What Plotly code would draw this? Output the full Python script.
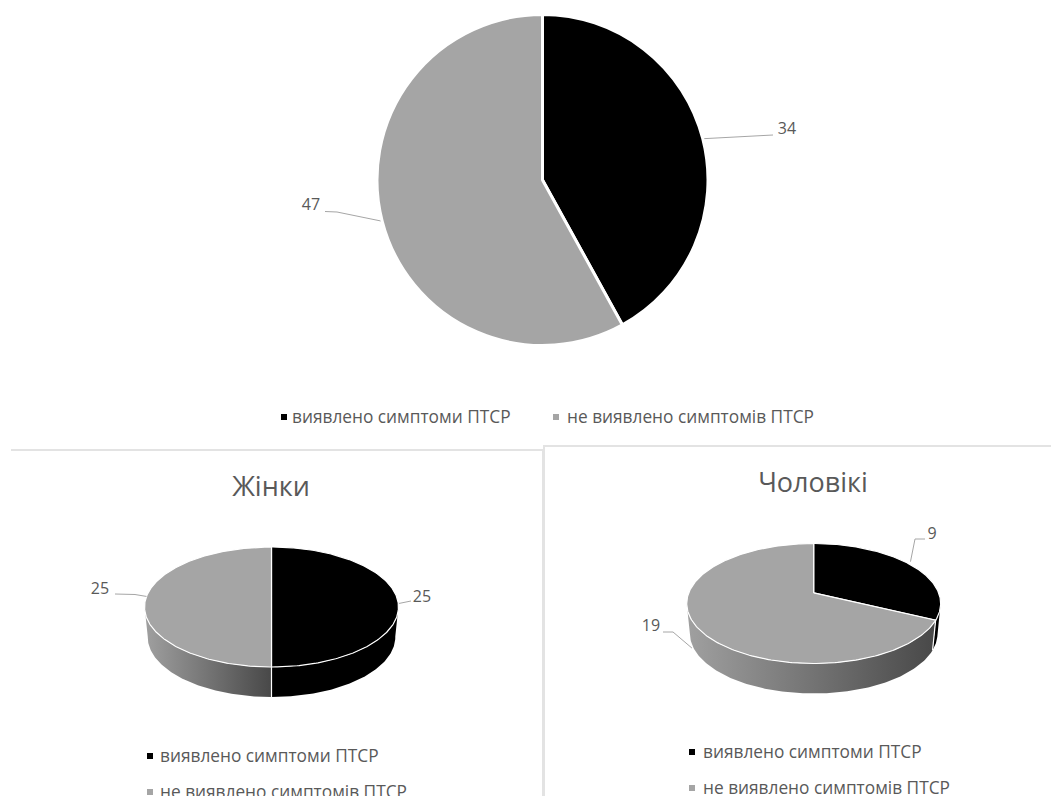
import numpy as np
import plotly.graph_objects as go

# Survey counts
categories = ["виявлено симптоми ПТСР", "не виявлено симптомів ПТСР"]
all_values = [34, 47]
women_values = [25, 25]
men_values = [9, 19]
women_title = "Жінки"
men_title = "Чоловікі"

BLACK = "#000000"
GREY = "#a5a5a5"
TEXT = "#595959"
RULE = "#e3e3e3"
FONT = "Open Sans"
W, H = 1051, 796

fig = go.Figure()


def add_text(x, y, text, size, anchor="middle center"):
    fig.add_trace(go.Scatter(
        x=[x], y=[y], mode="text", text=[text], textposition=anchor,
        textfont=dict(family=FONT, size=size, color=TEXT),
        hoverinfo="skip", showlegend=False))


def add_leader(points):
    xs, ys = zip(*points)
    fig.add_trace(go.Scatter(
        x=xs, y=ys, mode="lines", line=dict(color="#a6a6a6", width=1),
        hoverinfo="skip", showlegend=False))


def add_legend_row(x, y, label, colour, gap=10):
    fig.add_trace(go.Scatter(
        x=[x], y=[y], mode="markers",
        marker=dict(symbol="square", size=6, color=colour),
        hoverinfo="skip", showlegend=False))
    add_text(x + gap, y + 2, label, 17.3, "middle right")


# Flat pie across the top
TOP_CX, TOP_CY, TOP_R = 542.5, 180, 165.5
fig.add_trace(go.Pie(
    labels=categories, values=all_values, sort=False, direction="clockwise",
    rotation=0, textinfo="none", hoverinfo="skip", showlegend=False,
    marker=dict(colors=[BLACK, GREY], line=dict(color="white", width=3)),
    domain=dict(x=[(TOP_CX - TOP_R) / W, (TOP_CX + TOP_R) / W],
                y=[1 - (TOP_CY + TOP_R) / H, 1 - (TOP_CY - TOP_R) / H])))


def mid_angle(values, i):
    total = sum(values)
    return 2 * np.pi * (sum(values[:i]) + values[i] / 2) / total


for i, (route, label_pos) in enumerate([
        ([(773, 135)], (787, 130)),
        ([(337, 212), (325, 211.5)], (311, 206))]):
    a = mid_angle(all_values, i)
    rim = (TOP_CX + TOP_R * np.sin(a), TOP_CY - TOP_R * np.cos(a))
    add_leader([rim] + route)
    add_text(*label_pos, str(all_values[i]), 16)

add_legend_row(284, 417, categories[0], BLACK, gap=8)
add_legend_row(556, 417, categories[1], GREY, gap=11)


# Tilted pies: a disc under a one-point perspective, with a thick outer wall
class TiltedDisc:
    def __init__(self, cx, cy, a=125, b=60, p=0.176, depth=30, taper=0.975):
        self.cx, self.cy, self.a, self.b, self.p = cx, cy, a, b, p
        self.depth, self.taper = depth, taper

    def project(self, theta, lower=False):
        u, v = np.sin(theta), np.cos(theta)
        w = 1 + self.p * v
        x = self.a * u / w
        y = self.cy - (self.b * v + self.b * self.p) / w
        if lower:
            return self.cx + x * self.taper, y + self.depth
        return self.cx + x, y


def draw_tilted(disc, values):
    total = sum(values)
    edges = 2 * np.pi * np.cumsum([0] + list(values)) / total
    colours = [BLACK, GREY]

    # Outer wall: only the part of each slice that faces the viewer
    for i, colour in enumerate(colours):
        th = np.linspace(edges[i], edges[i + 1], 240)
        xt, yt = disc.project(th)
        front = yt >= disc.cy - 1
        if not front.any():
            continue
        th = th[front]
        xt, yt = disc.project(th)
        xb, yb = disc.project(th, lower=True)
        xs = np.r_[xt, xb[::-1], xt[0]]
        ys = np.r_[yt, yb[::-1], yt[0]]
        if colour == BLACK:
            fig.add_trace(go.Scatter(
                x=xs, y=ys, mode="lines", fill="toself", fillcolor=BLACK,
                line=dict(width=0), hoverinfo="skip", showlegend=False))
        else:
            fig.add_trace(go.Scatter(
                x=xs, y=ys, mode="lines", fill="toself",
                fillgradient=dict(type="horizontal",
                                  colorscale=[[0, "#a0a0a0"], [1, "#484848"]]),
                line=dict(width=0), hoverinfo="skip", showlegend=False))

    # White seam down the wall where two slices meet at the front
    for e in edges[:-1]:
        xt, yt = disc.project(e)
        if yt >= disc.cy:
            xb, yb = disc.project(e, lower=True)
            fig.add_trace(go.Scatter(
                x=[xt, xb], y=[yt, yb], mode="lines",
                line=dict(color="white", width=1.2),
                hoverinfo="skip", showlegend=False))

    # Top face
    ox, oy = disc.project(np.pi / 2)
    ox = disc.cx
    for i, colour in enumerate(colours):
        th = np.linspace(edges[i], edges[i + 1], 240)
        xt, yt = disc.project(th)
        fig.add_trace(go.Scatter(
            x=np.r_[ox, xt, ox], y=np.r_[oy, yt, oy], mode="lines", fill="toself",
            fillcolor=colour, line=dict(color="white", width=1.2),
            hoverinfo="skip", showlegend=False))


women = TiltedDisc(271.5, 607)
men = TiltedDisc(813.7, 603.5)
draw_tilted(women, women_values)
draw_tilted(men, men_values)


def rim_point(disc, values, i, nudge=(0, 0)):
    x, y = disc.project(mid_angle(values, i))
    return (x + nudge[0], y + nudge[1])


# Callouts for the women's pie
add_leader([rim_point(women, women_values, 0, (2.5, 7)), (411, 601)])
add_text(422, 598, str(women_values[0]), 16)
add_leader([rim_point(women, women_values, 1), (135, 594.5), (115, 594)])
add_text(100, 590, str(women_values[1]), 16)

# Callouts for the men's pie
add_leader([rim_point(men, men_values, 0, (0, -3)), (915, 539), (925, 539)])
add_text(932, 535, str(men_values[0]), 16)
add_leader([rim_point(men, men_values, 1, (-5, 21)), (673, 632), (663, 632)])
add_text(651, 627, str(men_values[1]), 16)

# Panel titles and legends
add_text(271, 489, women_title, 27)
add_text(813, 485, men_title, 27)
add_legend_row(150, 756, categories[0], BLACK)
add_legend_row(150, 792, categories[1], GREY)
add_legend_row(692, 752, categories[0], BLACK, gap=11)
add_legend_row(692, 788, categories[1], GREY, gap=11)

# Panel borders
for pts in [[(11, 450), (543, 450), (543, 796)], [(544, 796), (544, 446), (1051, 446)]]:
    xs, ys = zip(*pts)
    fig.add_trace(go.Scatter(x=xs, y=ys, mode="lines",
                             line=dict(color=RULE, width=2),
                             hoverinfo="skip", showlegend=False))

fig.update_layout(
    width=W, height=H, margin=dict(l=0, r=0, t=0, b=0),
    paper_bgcolor="white", plot_bgcolor="white", showlegend=False,
    xaxis=dict(range=[0, W], visible=False, fixedrange=True),
    yaxis=dict(range=[H, 0], visible=False, fixedrange=True))

fig.write_html("out.html", config=dict(displayModeBar=False))
